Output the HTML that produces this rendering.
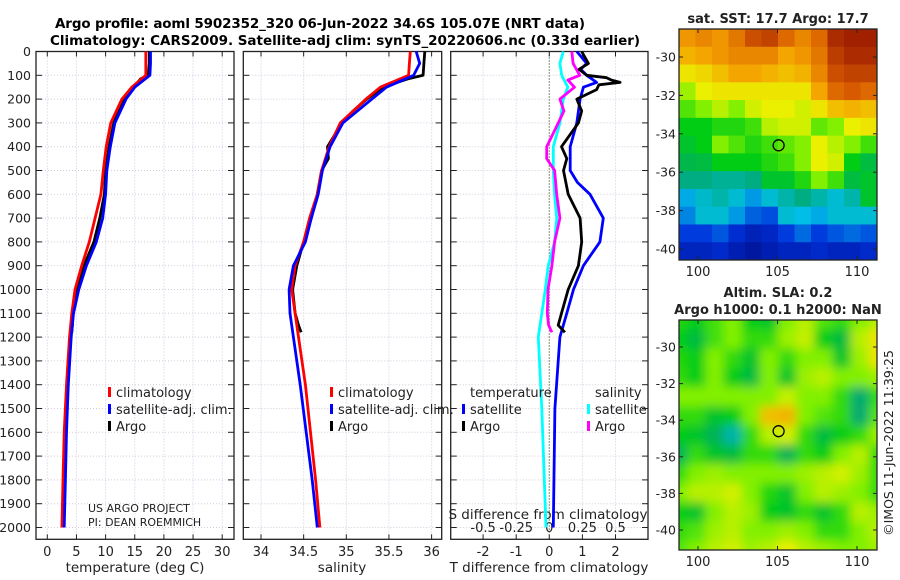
<!DOCTYPE html>
<html><head><meta charset="utf-8"><style>
html,body{margin:0;padding:0;background:#fff;}
svg{display:block;font-family:"DejaVu Sans","Liberation Sans",sans-serif;}
</style></head><body>
<svg id="chart" width="900" height="580" viewBox="0 0 900 580" xmlns="http://www.w3.org/2000/svg">
<defs>
<clipPath id="clipTop"><rect x="679" y="29" width="198" height="231"/></clipPath>
<clipPath id="clipBot"><rect x="679" y="320" width="198" height="230"/></clipPath>
<filter id="blur" x="0" y="0" width="1" height="1"><feGaussianBlur stdDeviation="5"/></filter>
</defs>
<text x="55" y="28" font-size="13.5" font-weight="bold" textLength="530">Argo profile: aoml 5902352_320 06-Jun-2022 34.6S 105.07E (NRT data)</text>
<text x="50" y="45" font-size="13.5" font-weight="bold" textLength="590">Climatology: CARS2009. Satellite-adj clim: synTS_20220606.nc (0.33d earlier)</text>
<g id="plots"></g>
</svg>
<script>
// ---------- data ----------
const depthTicks = [0,100,200,300,400,500,600,700,800,900,1000,1100,1200,1300,1400,1500,1600,1700,1800,1900,2000];
const climDepth = [0,50,100,150,200,300,400,500,600,700,800,900,1000,1100,1200,1400,1600,1800,2000];
const climTemp = [16.9,16.9,16.9,14.5,12.8,10.9,10.1,9.6,9.2,8.2,7.2,5.9,4.75,4.2,3.8,3.3,2.9,2.7,2.5];
const satTemp  = [17.7,17.7,17.6,15.0,13.5,11.6,10.8,10.2,10.0,9.5,8.4,6.7,5.4,4.5,4.1,3.6,3.3,3.1,2.9];
const climSal  = [35.75,35.74,35.73,35.40,35.23,34.93,34.80,34.71,34.66,34.57,34.50,34.40,34.36,34.40,34.44,34.52,34.58,34.64,34.69];
const satSal   = [35.82,35.86,35.79,35.47,35.30,34.96,34.81,34.72,34.67,34.59,34.52,34.38,34.33,34.34,34.38,34.46,34.53,34.60,34.66];
const argoDepth = [0,50,100,115,150,200,250,300,400,450,500,600,700,800,900,1000,1100,1150,1180];
const argoTemp = [17.5,17.5,17.3,16.0,14.8,13.3,12.2,11.4,10.6,10.3,10.0,9.8,9.0,8.0,6.3,5.1,4.4,4.3,4.2];
const argoSal  = [35.92,35.91,35.90,35.72,35.43,35.24,35.08,34.95,34.78,34.79,34.71,34.66,34.59,34.50,34.42,34.37,34.40,34.44,34.47];
// differences from climatology
const satTDiffDepth = [0,50,75,100,130,150,200,300,400,500,550,600,700,800,900,1000,1100,1200,1380,1500,2000];
const satTDiff = [0.83,1.13,0.95,1.13,1.43,1.03,0.93,0.83,0.63,0.63,0.85,1.23,1.63,1.53,1.03,0.73,0.53,0.32,0.23,0.17,0.12];
const satSDiffDepth = [0,50,100,150,200,300,400,500,600,700,800,900,1000,1100,1200,1500,2000];
const satSDiff = [0.106,0.08,0.094,0.14,0.106,0.08,0.03,0.03,0.04,0.056,0.04,-0.008,-0.03,-0.057,-0.083,-0.057,-0.025];
const argoTDiffDepth = [0,50,75,100,110,120,130,140,160,200,250,300,400,450,500,600,700,800,900,1000,1100,1150,1180];
const argoTDiff = [0.98,1.18,0.9,1.13,1.73,1.88,2.14,1.5,1.43,0.83,0.98,0.88,0.37,0.53,0.43,0.57,0.93,0.98,0.88,0.57,0.37,0.27,0.47];
const argoSDiffDepth = [0,50,100,120,150,200,250,300,400,450,500,600,700,800,900,1000,1100,1150,1180];
const argoSDiff = [0.17,0.18,0.23,0.14,0.19,0.08,0.11,0.068,-0.02,-0.02,0.04,0.056,0.08,0.04,0.02,-0.01,-0.015,-0.005,0.02];
const tempTicks = [0,5,10,15,20,25,30];
const salTicks = [34,34.5,35,35.5,36];
const salTickLabels = ["34","34.5","35","35.5","36"];
const diffTTicks = [-2,-1,0,1,2];
const diffSTicks = [-0.5,-0.25,0,0.25,0.5];
const diffSTickLabels = ["-0.5","-0.25","0","0.25","0.5"];
const lonTicks = [100,105,110];
const latTicks = [-30,-32,-34,-36,-38,-40];
const argoLon = 105.07, argoLat = -34.6;
// SST map (normalized 0..1 colour index), rows north->south
const sstGrid = [
[0.80,0.82,0.80,0.84,0.90,0.92,0.86,0.82,0.86,0.96,0.98,0.98],
[0.76,0.78,0.80,0.82,0.82,0.82,0.78,0.80,0.84,0.93,0.96,0.96],
[0.68,0.70,0.74,0.78,0.78,0.76,0.74,0.76,0.82,0.90,0.92,0.92],
[0.60,0.66,0.68,0.68,0.68,0.68,0.68,0.68,0.78,0.86,0.88,0.86],
[0.55,0.58,0.62,0.58,0.64,0.66,0.66,0.64,0.68,0.74,0.76,0.74],
[0.50,0.50,0.52,0.52,0.54,0.62,0.64,0.64,0.56,0.58,0.66,0.68],
[0.48,0.50,0.58,0.55,0.52,0.54,0.56,0.58,0.66,0.62,0.58,0.54],
[0.45,0.46,0.50,0.50,0.50,0.52,0.54,0.58,0.66,0.64,0.50,0.46],
[0.40,0.40,0.38,0.38,0.40,0.48,0.48,0.52,0.58,0.54,0.46,0.48],
[0.28,0.33,0.36,0.32,0.26,0.32,0.36,0.40,0.36,0.32,0.36,0.48],
[0.24,0.32,0.32,0.26,0.20,0.18,0.32,0.30,0.28,0.32,0.32,0.32],
[0.16,0.16,0.19,0.13,0.09,0.11,0.16,0.21,0.16,0.19,0.21,0.19],
[0.10,0.10,0.12,0.08,0.05,0.08,0.10,0.10,0.12,0.10,0.10,0.12]];
const slaGrid = [
[0.52,0.50,0.54,0.58,0.50,0.48,0.58,0.62,0.55,0.53,0.58,0.62],
[0.50,0.46,0.54,0.58,0.53,0.53,0.60,0.63,0.50,0.46,0.62,0.68],
[0.52,0.50,0.58,0.53,0.48,0.58,0.53,0.58,0.58,0.48,0.60,0.68],
[0.53,0.50,0.58,0.50,0.46,0.58,0.48,0.60,0.62,0.58,0.58,0.60],
[0.58,0.58,0.58,0.58,0.58,0.58,0.63,0.58,0.58,0.53,0.42,0.53],
[0.53,0.53,0.48,0.50,0.58,0.74,0.76,0.58,0.55,0.53,0.42,0.55],
[0.50,0.48,0.44,0.36,0.53,0.62,0.64,0.53,0.46,0.50,0.53,0.60],
[0.44,0.53,0.48,0.46,0.53,0.53,0.44,0.53,0.50,0.58,0.62,0.53],
[0.53,0.58,0.60,0.58,0.58,0.58,0.58,0.60,0.62,0.64,0.60,0.53],
[0.58,0.62,0.62,0.64,0.58,0.52,0.48,0.58,0.62,0.60,0.58,0.53],
[0.50,0.48,0.58,0.62,0.60,0.50,0.48,0.53,0.48,0.53,0.62,0.60],
[0.53,0.55,0.60,0.62,0.58,0.58,0.60,0.58,0.53,0.53,0.58,0.62],
[0.55,0.58,0.62,0.64,0.60,0.62,0.66,0.62,0.60,0.58,0.58,0.60]];

// ---------- scales ----------
const Y0 = 51.5, YB = 539.3;
const yD = d => Y0 + d*0.238;
const xT = v => 47.3 + v*5.83;
const xS = v => 261 + (v-34)*85.3;
const xDT = v => 549.3 + v*33.1;
const xDS = v => 549.3 + v*132.4;
const lonX = v => 698 + (v-100)*15.9;
const latYTop = v => 57 + (-30 - v)*19.2;
const latYBot = v => 347 + (-30 - v)*18.3;

const NS = "http://www.w3.org/2000/svg";
const root = document.getElementById('plots');
function mk(tag, attrs, parent){
  const e = document.createElementNS(NS, tag);
  for (const k in attrs) e.setAttribute(k, attrs[k]);
  (parent||root).appendChild(e);
  return e;
}
function txt(x,y,s,size,anchor,parent){
  const e = mk('text',{x:x,y:y,'font-size':size,'text-anchor':anchor||'start',fill:'#222'},parent);
  e.textContent = s;
  return e;
}
const panels = [
  {x0:36,x1:234,name:'temperature-panel'},
  {x0:243.3,x1:441.7,name:'salinity-panel'},
  {x0:450.7,x1:648,name:'difference-panel'}];
const panelXTicks = [tempTicks.map(xT), salTicks.map(xS), diffTTicks.map(xDT)];

panels.forEach((p,i)=>{
  const g = mk('g',{});
  
  
  panelXTicks[i].forEach(x=>{
    const l = mk('line',{x1:x,x2:x,y1:Y0,y2:YB,stroke:'#c8cbe8','stroke-width':1,'stroke-dasharray':'1,2'},g);
    
    
  });
  depthTicks.forEach(d=>{
    const y = yD(d);
    const l = mk('line',{x1:p.x0,x2:p.x1,y1:y,y2:y,stroke:'#d8c8d8','stroke-width':1,'stroke-dasharray':'1,2'},g);
    
    
    mk('line',{x1:p.x0,x2:p.x0+6,y1:y,y2:y,stroke:'#222','stroke-width':1},g);
    mk('line',{x1:p.x1-6,x2:p.x1,y1:y,y2:y,stroke:'#222','stroke-width':1},g);
  });
  panelXTicks[i].forEach(x=>{
    mk('line',{x1:x,x2:x,y1:YB-5,y2:YB,stroke:'#222','stroke-width':1},g);
    mk('line',{x1:x,x2:x,y1:Y0,y2:Y0+5,stroke:'#222','stroke-width':1},g);
  });
  const fr = mk('rect',{x:p.x0,y:Y0,width:p.x1-p.x0,height:YB-Y0,fill:'none',stroke:'#222','stroke-width':1.3},g);
  
  
});

depthTicks.forEach(d=>{
  const t = txt(31, yD(d)+4.5, String(d), 12.5, 'end');
  
  
});
tempTicks.forEach(v=>{
  const t = txt(xT(v), 556, String(v), 13, 'middle');
  
  
});
salTicks.forEach((v,i)=>{
  const t = txt(xS(v), 556, salTickLabels[i], 13, 'middle');
  
  
});
diffTTicks.forEach(v=>{
  const t = txt(xDT(v), 556, String(v), 13, 'middle');
  
  
});
diffSTicks.forEach((v,i)=>{
  const t = txt(xDS(v), 532, diffSTickLabels[i], 13, 'middle');
  
  
});
let t;
t = txt(135, 572, 'temperature (deg C)', 13.5, 'middle');


t = txt(342, 572, 'salinity', 13.5, 'middle');


t = txt(549, 572, 'T difference from climatology', 13.5, 'middle');


t = txt(548, 519, 'S difference from climatology', 13.5, 'middle');


t = txt(88, 512, 'US ARGO PROJECT', 11, 'start');


t = txt(88, 526, 'PI: DEAN ROEMMICH', 11, 'start');



const zl = mk('line',{x1:xDT(0),x2:xDT(0),y1:Y0,y2:YB,stroke:'#3a4a20','stroke-width':1.2,'stroke-dasharray':'1,2'});



function series(depths, vals, xf, color, name, w){
  const pts = depths.map((d,i)=>xf(vals[i]).toFixed(1)+','+yD(d).toFixed(1)).join(' ');
  const pl = mk('polyline',{points:pts,fill:'none',stroke:color,'stroke-width':w||2.8,'stroke-linejoin':'round'});
  
  
}
series(argoDepth, argoTemp, xT, '#000', 'argo-temperature-line');
series(climDepth, climTemp, xT, '#f00', 'climatology-temperature-line');
series(climDepth, satTemp, xT, '#0000ff', 'satellite-temperature-line');
series(argoDepth, argoSal, xS, '#000', 'argo-salinity-line');
series(climDepth, climSal, xS, '#f00', 'climatology-salinity-line');
series(climDepth, satSal, xS, '#0000ff', 'satellite-salinity-line');
series(satSDiffDepth, satSDiff, xDS, '#00ffff', 'satellite-salinity-diff-line');
series(argoSDiffDepth, argoSDiff, xDS, '#ff00ff', 'argo-salinity-diff-line');
series(satTDiffDepth, satTDiff, xDT, '#0000ff', 'satellite-temperature-diff-line');
series(argoTDiffDepth, argoTDiff, xDT, '#000', 'argo-temperature-diff-line');

function legendEntry(x,y,color,label,name){
  const g = mk('g',{});
  
  
  mk('rect',{x:x,y:y-10,width:3,height:10,fill:color},g);
  txt(x+8,y,label,13,'start',g);
}
legendEntry(108,397,'#f00','climatology','legend-climatology');
legendEntry(108,414,'#0000ff','satellite-adj. clim.','legend-satellite-adj');
legendEntry(108,431,'#000','Argo','legend-argo');
legendEntry(330,397,'#f00','climatology','legend-climatology-sal');
legendEntry(330,414,'#0000ff','satellite-adj. clim.','legend-satellite-adj-sal');
legendEntry(330,431,'#000','Argo','legend-argo-sal');
t = txt(470,397,'temperature',13,'start');


t = txt(595,397,'salinity',13,'start');


legendEntry(462,414,'#0000ff','satellite','legend-temp-satellite');
legendEntry(462,431,'#000','Argo','legend-temp-argo');
legendEntry(587,414,'#00ffff','satellite','legend-sal-satellite');
legendEntry(587,431,'#ff00ff','Argo','legend-sal-argo');

// ---------- maps ----------
const cmapStops = [[0,[0,10,130]],[0.15,[0,50,220]],[0.3,[0,190,230]],[0.42,[0,170,110]],[0.5,[0,205,20]],[0.58,[130,240,0]],[0.66,[235,240,0]],[0.78,[245,165,0]],[0.88,[215,90,0]],[1,[150,20,0]]];
function cmap(v){
  v = Math.max(0,Math.min(1,v));
  for (let i=1;i<cmapStops.length;i++){
    const a = cmapStops[i-1], b = cmapStops[i];
    if (v <= b[0]){
      const f = (v-a[0])/(b[0]-a[0]);
      const c = a[1].map((x,k)=>Math.round(x+(b[1][k]-x)*f));
      return 'rgb('+c.join(',')+')';
    }
  }
  return 'rgb(150,20,0)';
}
function drawMap(grid, y0, y1, clip, name, blur, latY){
  const outer = mk('g',{'clip-path':'url(#'+clip+')'});
  
  
  const g = mk('g', blur ? {filter:'url(#blur)'} : {}, outer);
  const rows = grid.length, cols = grid[0].length;
  const pad = blur ? 10 : 0;
  const cw = (198+2*pad)/cols, ch = (y1-y0+2*pad)/rows;
  grid.forEach((row,r)=>row.forEach((v,c)=>{
    const cell = mk('rect',{x:(679-pad+c*cw).toFixed(2),y:(y0-pad+r*ch).toFixed(2),width:(cw+0.6).toFixed(2),height:(ch+0.6).toFixed(2),fill:cmap(v)},g);
    
    
  }));
  const frame = mk('rect',{x:679,y:y0,width:198,height:y1-y0,fill:'none',stroke:'#222','stroke-width':1.3});
  
  
  lonTicks.forEach(v=>{
    const x = lonX(v);
    mk('line',{x1:x,x2:x,y1:y0,y2:y0+4,stroke:'#222'});
    mk('line',{x1:x,x2:x,y1:y1-4,y2:y1,stroke:'#222'});
  });
  latTicks.forEach(v=>{
    const y = latY(v);
    mk('line',{x1:679,x2:683,y1:y,y2:y,stroke:'#222'});
    mk('line',{x1:873,x2:877,y1:y,y2:y,stroke:'#222'});
    const l = txt(676, y+4.5, String(v), 12.5, 'end');
    
    
  });
  const m = mk('circle',{cx:lonX(argoLon),cy:latY(argoLat),r:5.5,fill:'none',stroke:'#000','stroke-width':1.3});
  
  
}
drawMap(sstGrid, 29, 260, 'clipTop', 'sst-map', false, latYTop);
drawMap(slaGrid, 320, 550, 'clipBot', 'sla-map', true, latYBot);
lonTicks.forEach(v=>{
  const a = txt(lonX(v), 276, String(v), 13, 'middle');
  
  
  const b = txt(lonX(v), 566, String(v), 13, 'middle');
  
  
});
t = txt(778, 23, 'sat. SST: 17.7 Argo: 17.7', 13, 'middle');
t.setAttribute('font-weight','bold');


t = txt(778, 297, 'Altim. SLA: 0.2', 13, 'middle');
t.setAttribute('font-weight','bold');


t = txt(778, 314, 'Argo h1000: 0.1 h2000: NaN', 13, 'middle');
t.setAttribute('font-weight','bold');


t = txt(0, 0, '\u00a9IMOS 11-Jun-2022 11:39:25', 12.5, 'middle');
t.setAttribute('transform','translate(893,443) rotate(-90)');


</script>
</body></html>
